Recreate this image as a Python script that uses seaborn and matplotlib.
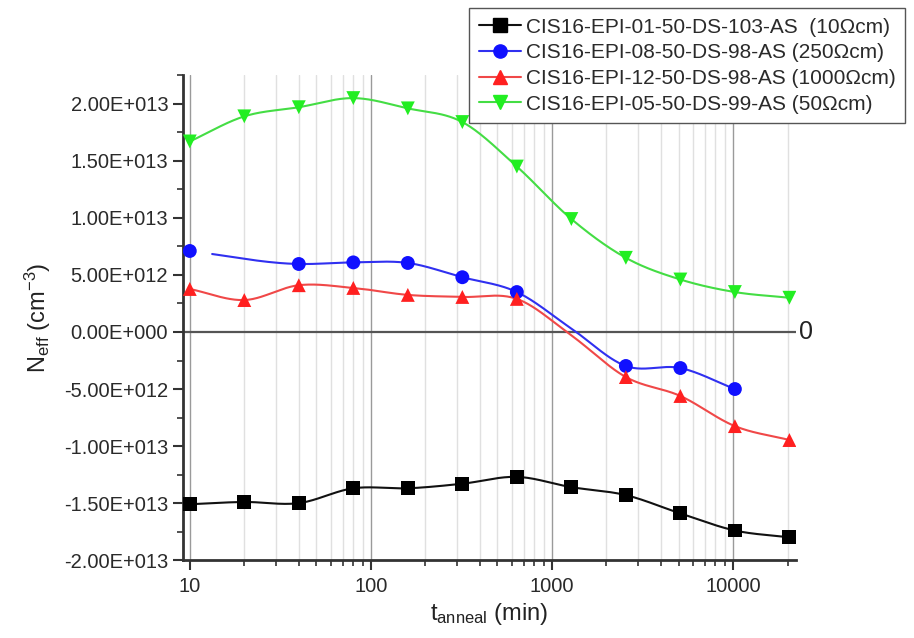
import numpy as np
import pandas as pd
import matplotlib
matplotlib.use("Agg")
import matplotlib.pyplot as plt
from matplotlib.ticker import LogLocator, MultipleLocator, FuncFormatter, NullFormatter
from matplotlib.lines import Line2D
import seaborn as sns

# --- data (N_eff in cm^-3, annealing time in min) ---
t_anneal = [10, 20, 40, 80, 160, 320, 640, 1280, 2560, 5120, 10240, 20480]

neff_10 = [-15.1e12, -14.9e12, -15.0e12, -13.7e12, -13.7e12, -13.3e12, -12.7e12,
           -13.6e12, -14.3e12, -15.9e12, -17.4e12, -18.0e12]
neff_250 = [7.1e12, np.nan, 5.96e12, 6.1e12, 6.05e12, 4.8e12, 3.5e12,
            0.3e12, -2.98e12, -3.16e12, -5.0e12, np.nan]
neff_1000 = [3.77e12, 2.8e12, 4.1e12, 3.86e12, 3.25e12, 3.07e12, 2.9e12,
             -0.3e12, -3.95e12, -5.61e12, -8.25e12, -9.47e12]
neff_50 = [16.7e12, 18.9e12, 19.7e12, 20.5e12, 19.6e12, 18.4e12, 14.5e12,
           9.9e12, 6.5e12, 4.6e12, 3.5e12, 3.0e12]

# points at 1280 min of the 250 and 1000 Ohm cm curves have no symbol in the original
marker_250 = [True, False, True, True, True, True, True, False, True, True, True, False]
marker_1000 = [True, True, True, True, True, True, True, False, True, True, True, True]

labels = ["CIS16-EPI-01-50-DS-103-AS  (10\u03a9cm)",
          "CIS16-EPI-08-50-DS-98-AS (250\u03a9cm)",
          "CIS16-EPI-12-50-DS-98-AS (1000\u03a9cm)",
          "CIS16-EPI-05-50-DS-99-AS (50\u03a9cm)"]
values = [neff_10, neff_250, neff_1000, neff_50]
markers_shown = [[True] * 12, marker_250, marker_1000, [True] * 12]
colors = ["#000000", "#1010ff", "#ff2020", "#22ee22"]
line_colors = ["#111111", "#3030f0", "#f04848", "#44dd44"]
symbols = ["s", "o", "^", "v"]
line_start = [10, 13, 10, 10]


def smooth(x, y, n=40):
    # cubic hermite through the points in log-x, like Origin's spline connect
    lx = np.log10(x)
    m = np.gradient(y, lx)
    xs, ys = [], []
    for i in range(len(lx) - 1):
        h = lx[i + 1] - lx[i]
        s = np.linspace(0, 1, n)
        h00 = 2 * s**3 - 3 * s**2 + 1
        h10 = s**3 - 2 * s**2 + s
        h01 = -2 * s**3 + 3 * s**2
        h11 = s**3 - s**2
        xs.append(lx[i] + s * h)
        ys.append(h00 * y[i] + h10 * h * m[i] + h01 * y[i + 1] + h11 * h * m[i + 1])
    return 10 ** np.concatenate(xs), np.concatenate(ys)


curves, points = [], []
for lab, v, shown, start in zip(labels, values, markers_shown, line_start):
    v = np.array(v, dtype=float)
    t = np.array(t_anneal, dtype=float)
    ok = ~np.isnan(v)
    cx, cy = smooth(t[ok], v[ok])
    keep = cx >= start
    curves.append(pd.DataFrame({"t": cx[keep], "neff": cy[keep], "sample": lab}))
    sel = ok & np.array(shown)
    points.append(pd.DataFrame({"t": t[sel], "neff": v[sel], "sample": lab}))
curve_df = pd.concat(curves, ignore_index=True)
point_df = pd.concat(points, ignore_index=True)

sns.set_style("ticks")
plt.rcParams["font.family"] = ["Liberation Sans", "DejaVu Sans"]
plt.rcParams["mathtext.fontset"] = "custom"
plt.rcParams["mathtext.rm"] = "Liberation Sans"
plt.rcParams["mathtext.it"] = "Liberation Sans:italic"

fig = plt.figure(figsize=(9.14, 6.38), dpi=100)
ax = fig.add_axes([0.200, 0.122, 0.671, 0.760])

ax.set_xscale("log")
ax.set_xlim(9.15, 22300)
ax.set_ylim(-2.0e13, 2.25e13)

# vertical grid like the original (minor light, major darker)
ax.grid(True, which="minor", axis="x", color="#e0e0e0", lw=1.0)
ax.grid(True, which="major", axis="x", color="#9a9a9a", lw=1.0)
ax.set_axisbelow(True)

ax.axhline(0, color="#555555", lw=1.6, zorder=1)
ax.text(1.005, 0, "0", transform=ax.get_yaxis_transform(), fontsize=18,
        va="center", ha="left", color="#222222")

pal_line = dict(zip(labels, line_colors))
pal_mark = dict(zip(labels, colors))
sns.lineplot(data=curve_df, x="t", y="neff", hue="sample", palette=pal_line,
             sort=False, estimator=None, lw=1.5, legend=False, ax=ax, zorder=3)
sns.scatterplot(data=point_df, x="t", y="neff", hue="sample", style="sample",
                palette=pal_mark, markers=dict(zip(labels, symbols)), s=100,
                edgecolor="none", legend=False, ax=ax, zorder=4)

ax.xaxis.set_major_locator(LogLocator(base=10, numticks=10))
ax.xaxis.set_minor_locator(LogLocator(base=10, subs=np.arange(2, 10), numticks=20))
ax.xaxis.set_major_formatter(FuncFormatter(lambda v, p: f"{int(round(v))}"))
ax.xaxis.set_minor_formatter(NullFormatter())


def sci_label(v, pos):
    if abs(v) < 1:
        return "0.00E+000"
    e = int(np.floor(np.log10(abs(v))))
    return f"{v / 10**e:.2f}E{e:+04d}"


ax.yaxis.set_major_locator(MultipleLocator(5e12))
ax.yaxis.set_minor_locator(MultipleLocator(2.5e12))
ax.yaxis.set_major_formatter(FuncFormatter(sci_label))

ax.tick_params(axis="both", which="major", direction="out", length=7, width=1.5,
               labelsize=14.5, labelcolor="#2a2a2a", color="#333333")
ax.tick_params(axis="both", which="minor", direction="out", length=4, width=1.2,
               color="#333333")
ax.tick_params(axis="x", which="major", pad=5)

sns.despine(ax=ax, top=True, right=True)
for side in ["left", "bottom"]:
    ax.spines[side].set_linewidth(2.0)
    ax.spines[side].set_color("#333333")

ax.set_xlabel(r"t$_{\mathrm{anneal}}$ (min)", fontsize=17, color="#222222", labelpad=4)
ax.set_ylabel(r"N$_{\mathrm{eff}}$ (cm$^{-3}$)", fontsize=17, color="#222222", labelpad=8)

handles = [Line2D([], [], color=lc, lw=1.5, marker=sym, markersize=9.5,
                  markerfacecolor=c, markeredgecolor=c)
           for lc, c, sym in zip(line_colors, colors, symbols)]
leg = fig.legend(handles, labels, loc="upper right", bbox_to_anchor=(0.99, 0.987),
                 fontsize=15, frameon=True, fancybox=False, edgecolor="#555555",
                 framealpha=1, handlelength=2.0, handletextpad=0.25,
                 labelspacing=0.32, borderpad=0.45, borderaxespad=0)
leg.get_frame().set_linewidth(1.0)
for txt in leg.get_texts():
    txt.set_color("#2a2a2a")

fig.savefig("out.png", dpi=100)
